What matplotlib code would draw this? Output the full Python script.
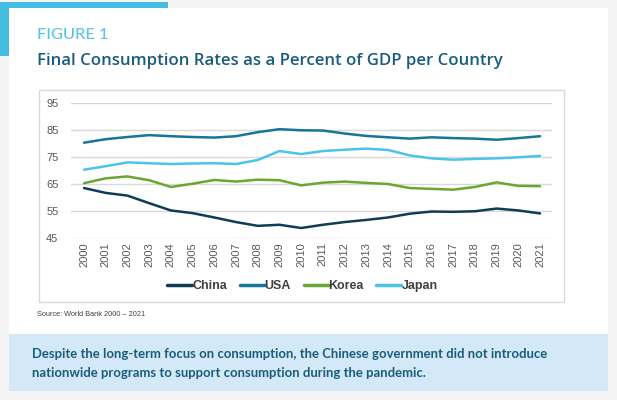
import matplotlib
matplotlib.use("Agg")
import matplotlib.pyplot as plt
from matplotlib.patches import Rectangle

years = [str(y) for y in range(2000, 2022)]
china = [63.5, 61.7, 60.7, 57.9, 55.2, 54.2, 52.6, 50.9, 49.5, 49.9, 48.7, 49.9,
         50.9, 51.7, 52.6, 54.0, 54.8, 54.7, 54.9, 55.9, 55.2, 54.1]
usa = [80.3, 81.6, 82.4, 83.1, 82.7, 82.4, 82.2, 82.7, 84.2, 85.3, 84.9, 84.8,
       83.7, 82.8, 82.3, 81.8, 82.3, 82.0, 81.8, 81.4, 82.0, 82.7]
korea = [65.3, 67.1, 67.8, 66.4, 63.9, 65.1, 66.5, 65.9, 66.6, 66.4, 64.5, 65.5,
         65.9, 65.4, 65.0, 63.5, 63.2, 62.9, 63.9, 65.6, 64.3, 64.2]
japan = [70.3, 71.6, 73.0, 72.7, 72.4, 72.6, 72.7, 72.4, 73.9, 77.2, 76.1, 77.2,
         77.7, 78.1, 77.6, 75.6, 74.5, 74.0, 74.3, 74.5, 74.9, 75.4]
series_names = ["China", "USA", "Korea", "Japan"]
yticks = [45, 55, 65, 75, 85, 95]

W, H = 617, 400
fig = plt.figure(figsize=(W / 100, H / 100), dpi=100)
fig.patch.set_facecolor("#f4f4f4")


def rect(x0, y0, x1, y1, **kw):
    r = Rectangle((x0 / W, 1 - y1 / H), (x1 - x0) / W, (y1 - y0) / H,
                  transform=fig.transFigure, **kw)
    fig.patches.append(r)
    return r


def ftext(x, y, s, **kw):
    return fig.text(x / W, 1 - y / H, s, **kw)


rect(0, 2, 168, 56, facecolor="#45bde0", edgecolor="none", zorder=0)
rect(9, 8, 608, 334, facecolor="white", edgecolor="none", zorder=1)
rect(9, 334, 608, 391, facecolor="#d4e9f7", edgecolor="none", zorder=1)
rect(39, 90, 564, 302, facecolor="none", edgecolor="#d9d9d9", linewidth=1.0, zorder=2)

ftext(37, 35, "FIGURE 1", fontsize=11.8, color="#5cc4e6", family="Lato",
      fontweight="medium", va="center", ha="left", zorder=3)
ftext(37, 61, "Final Consumption Rates as a Percent of GDP per Country",
      fontsize=12.1, color="#1b5c7c", family="Open Sans", fontweight="semibold",
      va="center", ha="left", zorder=3)
ftext(37, 314, "Source: World Bank 2000 \u2013 2021", fontsize=5.3,
      color="#404040", family=["Liberation Sans Narrow", "Liberation Sans"],
      va="center", ha="left", zorder=3)
ftext(32, 354, "Despite the long-term focus on consumption, the Chinese government did not introduce",
      fontsize=9.45, color="#1b5c7c", family="Lato", fontweight="bold",
      va="center", ha="left", zorder=3)
ftext(32, 373, "nationwide programs to support consumption during the pandemic.",
      fontsize=9.45, color="#1b5c7c", family="Lato", fontweight="bold",
      va="center", ha="left", zorder=3)

ax = fig.add_axes([71 / W, 1 - 238 / H, (552 - 71) / W, (238 - 103) / H])
ax.set_zorder(3)
ax.patch.set_alpha(0)

x = list(range(len(years)))
colors = ["#0e3d55", "#17749a", "#6aa631", "#4cc3ea"]
for vals, name, c in zip([china, usa, korea, japan], series_names, colors):
    ax.plot(x, vals, color=c, linewidth=1.8, label=name, solid_capstyle="round", zorder=3)

ax.set_ylim(45, 95)
ax.set_xlim(-0.6, len(years) - 1 + 0.55)
ax.set_yticks(yticks)
ax.set_yticklabels([str(v) for v in yticks], fontsize=8.0, color="#595959",
                   family="Liberation Sans")
ax.set_xticks(x)
ax.set_xticklabels(years, rotation=90, fontsize=8.0, color="#595959",
                   family="Liberation Sans")
ax.tick_params(length=0, pad=3)
ax.tick_params(axis="y", pad=9)
ax.grid(axis="y", color="#d9d9d9", linewidth=1.0)
ax.set_axisbelow(True)
for s in ax.spines.values():
    s.set_visible(False)

leg = ax.legend(loc="center", bbox_to_anchor=(302.5 / W, 1 - 286 / H),
                bbox_transform=fig.transFigure, ncol=4, frameon=False,
                handlelength=2.0, handletextpad=0.0, columnspacing=1.0,
                prop={"family": "Liberation Sans", "weight": "bold", "size": 9.0})
for t in leg.get_texts():
    t.set_color("#404040")
for h in leg.get_lines():
    h.set_linewidth(2.5)

fig.savefig("out.png", dpi=100, facecolor=fig.get_facecolor())
